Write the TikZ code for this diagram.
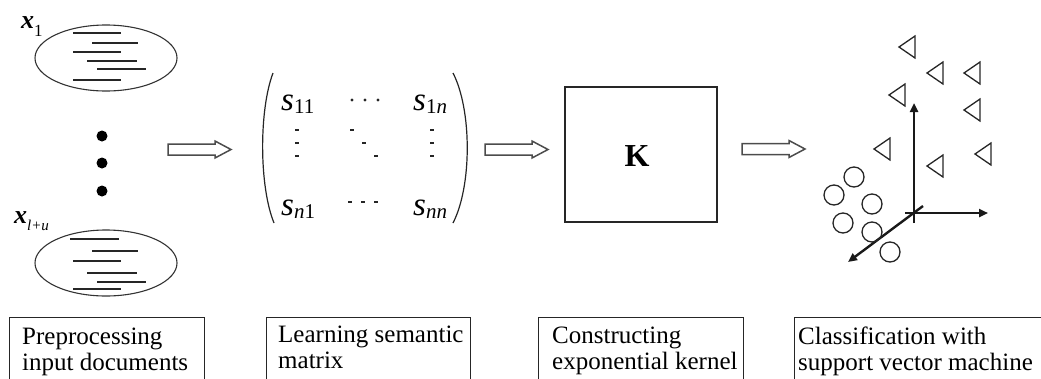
\documentclass[tikz,border=0pt]{standalone}
\usepackage{fontspec}
\setmainfont{Liberation Serif}
\usetikzlibrary{arrows.meta,shapes.geometric}

% subscript used in the matrix entries
\newcommand\msub[1]{\raisebox{-3pt}{\fontsize{21}{21}\selectfont #1}}

\begin{document}
\begin{tikzpicture}[x=1pt,y=-1pt,
  docshape/.style={draw=black!80, line width=1.1pt, ellipse, minimum width=142pt, minimum height=66pt, inner sep=0pt},
  textline/.style={draw=black!85, line width=2pt},
  bigdot/.style={circle, fill=black, minimum size=11pt, inner sep=0pt},
  hollow/.style={draw=black!70, line width=1.5pt, line join=miter},
  stagebox/.style={draw=black!85, line width=1.4pt, inner sep=0pt},
  caption/.style={anchor=north west, align=left, inner sep=0pt, font=\fontsize{25}{26}\selectfont},
  entry/.style={anchor=base west, inner sep=0pt, font=\fontsize{33}{33}\selectfont\itshape},
  mdash/.style={line width=1.1pt, black!85},
  axisline/.style={line width=2.4pt, black!90, -{Triangle[length=9pt,width=8pt]}},
  tri/.style={draw=black!85, line width=1.3pt, line join=miter},
  ring/.style={draw=black!85, line width=1.3pt},
  hollowarrow/.pic={\draw[hollow] (0,-5.5) -- (47,-5.5) -- (47,-8.5) -- (63,0) -- (47,8.5) -- (47,5.5) -- (0,5.5) -- cycle;}
]

\useasboundingbox (0,0) rectangle (1041,378);
\clip (0,0) rectangle (1041,378);

% ---------- input documents ----------
\node[docshape] (doc1) at (106,58) {};
\node[docshape] (doc2) at (106,263) {};
\foreach \xa/\xb/\y in {73/121/33, 92/138/43, 73/121/52, 87/137/61, 97/146/69, 73/121/80}
  \draw[textline] (\xa,\y) -- (\xb,\y);
\foreach \xa/\xb/\y in {70/119/239, 92/138/251, 73/121/261, 87/137/273, 97/146/282, 73/121/289}
  \draw[textline] (\xa,\y) -- (\xb,\y);

\node[anchor=base west, inner sep=0pt] (lab1) at (21,28)
  {\fontsize{26}{26}\selectfont\bfseries\itshape x\raisebox{-8pt}{\fontsize{17}{17}\mdseries\upshape 1}};
\node[anchor=base west, inner sep=0pt] (lab2) at (14,223)
  {\fontsize{26}{26}\selectfont\bfseries\itshape x\raisebox{-7pt}{\fontsize{15}{15}\mdseries\itshape l+u}};

\node[bigdot] (d1) at (102,136) {};
\node[bigdot] (d2) at (102,163) {};
\node[bigdot] (d3) at (102,191) {};

% ---------- stage arrows ----------
\coordinate (a1) at (168,149.5);
\coordinate (a2) at (485,149.5);
\coordinate (a3) at (742,149);
\pic at (a1) {hollowarrow};
\pic at (a2) {hollowarrow};
\pic at (a3) {hollowarrow};

% ---------- semantic matrix ----------
\draw[line width=1.2pt, black!85] (273,73) .. controls (259,110) and (259,186) .. (274,223);
\draw[line width=1.2pt, black!85] (453,73) .. controls (472,110) and (472,186) .. (453,223);

\node[entry] (s11) at (281,110) {s\msub{\upshape 11}};
\node[entry] (s1n) at (413,110) {s\msub{\upshape 1\itshape n}};
\node[entry] (sn1) at (281,215) {s\msub{n\upshape 1}};
\node[entry] (snn) at (413,215) {s\msub{nn}};

\foreach \x in {352,365,378} \fill[black!85] (\x,100) circle[radius=1.6pt];
\foreach \x in {350,363,376} \draw[mdash] (\x-2,202) -- (\x+2,202);
\foreach \y in {130,143,156} {
  \draw[mdash] (295,\y) -- (299,\y);
  \draw[mdash] (430,\y) -- (434,\y);
}
\foreach \x/\y in {352/130, 364/143, 376/156} \draw[mdash] (\x-2,\y) -- (\x+2,\y);

% ---------- kernel ----------
\node[stagebox, minimum width=152pt, minimum height=135pt] (kbox) at (641,154.5) {};
\node[inner sep=0pt, font=\fontsize{32}{32}\selectfont\bfseries] (K) at (637,156) {K};

% ---------- SVM plot ----------
\coordinate (o) at (914,213);
\draw[axisline] (914,223) -- (914,103);
\draw[axisline] (905,213) -- (988,213);
\draw[axisline] (923,206) -- (848,262);

\foreach \x/\y in {907/47, 935/73, 972/73, 897/95, 972/110, 882/149, 983/154, 935/166}
  \draw[tri] (\x-8,\y) -- (\x+8,\y-11) -- (\x+8,\y+11) -- cycle;
\foreach \x/\y in {854/177, 834/195, 872/204, 843/223, 872/232, 890/252}
  \draw[ring] (\x,\y) circle[radius=10pt];

% ---------- stage captions ----------
\node[stagebox, anchor=north west, minimum width=195pt, minimum height=90pt] (b1) at (9,317) {};
\node[stagebox, anchor=north west, minimum width=204pt, minimum height=90pt] (b2) at (266,317) {};
\node[stagebox, anchor=north west, minimum width=205pt, minimum height=90pt] (b3) at (538,317) {};
\node[stagebox, anchor=north west, minimum width=260pt, minimum height=90pt] (b4) at (794,317) {};

\node[caption] (c1) at (22,328) {Preprocessing\\input documents};
\node[caption] (c2) at (278,326) {Learning semantic\\matrix};
\node[caption] (c3) at (552,327) {Constructing\\exponential kernel};
\node[caption] (c4) at (798,327) {Classification with\\support vector machine};

\end{tikzpicture}
\end{document}
